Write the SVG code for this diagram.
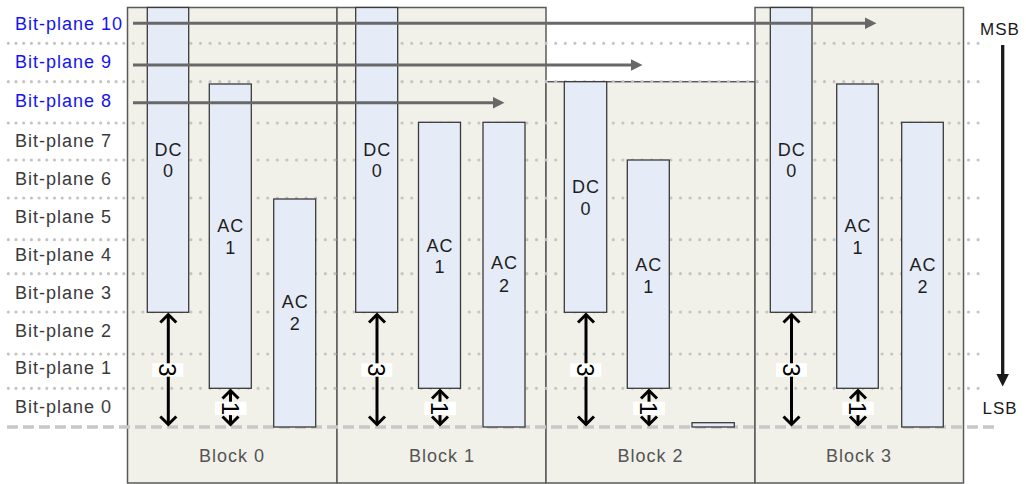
<svg xmlns="http://www.w3.org/2000/svg" width="1026" height="484" viewBox="0 0 1026 484">
  <style>
    text { font-family: "Liberation Sans", Arial, sans-serif; }
    .plane { font-size: 18px; letter-spacing: 1px; fill: #3a3a3a; }
    .plane.hi { fill: #1414f0; }
    .frame { fill: #f1f1ea; stroke: #5a5a5a; stroke-width: 1.5; }
    .blk { font-size: 18px; letter-spacing: 1px; fill: #555555; text-anchor: middle; }
    .bar { fill: #e5ecf7; stroke: #3a3a3a; stroke-width: 1.3; }
    .bar-t { font-size: 18px; letter-spacing: 1px; fill: #1e1e1e; text-anchor: middle; }
    .dots-l { stroke: #c4c4c4; stroke-width: 3.2; stroke-linecap: round; stroke-dasharray: 0 7.7; fill: none; }
    .dots { stroke: #c4c4c4; stroke-width: 3.2; stroke-linecap: round; stroke-dasharray: 0 9.6; fill: none; }
    .dash { stroke: #c8c8c8; stroke-width: 3.5; stroke-dasharray: 11 5; fill: none; }
    .scan { stroke: #686868; stroke-width: 3; fill: none; marker-end: url(#headGray); }
    .gap { stroke: #000000; stroke-width: 3; fill: none; marker-start: url(#chev); marker-end: url(#chev); }
    .tag { fill: #ffffff; }
    .tag-t { font-size: 24px; fill: #000000; text-anchor: middle; }
    .axis { stroke: #1a1a1a; stroke-width: 3.3; fill: none; marker-end: url(#headBlack); }
    .axis-t { font-size: 17px; letter-spacing: 1px; fill: #1a1a1a; }
  </style>
  <defs>
    <marker id="headGray" markerUnits="userSpaceOnUse" viewBox="0 0 12 12" markerWidth="12" markerHeight="12" refX="0.5" refY="6" orient="auto">
      <path d="M0,0 L12,6 L0,12 z" fill="#686868"/>
    </marker>
    <marker id="headBlack" markerUnits="userSpaceOnUse" viewBox="0 0 13 14" markerWidth="13" markerHeight="14" refX="0.5" refY="7" orient="auto">
      <path d="M0,0.5 L13,7 L0,13.5 z" fill="#1a1a1a"/>
    </marker>
    <marker id="chev" markerUnits="userSpaceOnUse" viewBox="-12 -12 16 24" markerWidth="16" markerHeight="24" refX="0" refY="0" orient="auto-start-reverse" overflow="visible">
      <path d="M-8,-8 L0,0 L-8,8" fill="none" stroke="#000000" stroke-width="3"/>
    </marker>
  </defs>

  <!-- block frames -->
  <g id="block-0">
    <rect class="frame" x="127.5" y="7.5" width="209.5" height="475.5"/>
    <text class="blk" x="232" y="462">Block 0</text>
  </g>
  <g id="block-1">
    <rect class="frame" x="337" y="7.5" width="209" height="475.5"/>
    <text class="blk" x="442" y="462">Block 1</text>
  </g>
  <g id="block-2">
    <rect class="frame" x="546" y="81.7" width="209" height="401.3"/>
    <text class="blk" x="650.5" y="462">Block 2</text>
  </g>
  <g id="block-3">
    <rect class="frame" x="755" y="7.5" width="208.5" height="475.5"/>
    <text class="blk" x="859" y="462">Block 3</text>
  </g>

  <!-- bit-plane guides -->
  <g id="guides">
    <path class="dots-l" d="M8.3,43.3 H124 M8.3,81.7 H124 M8.3,123 H124 M8.3,160 H124 M8.3,198 H124 M8.3,239.7 H124 M8.3,273.7 H124 M8.3,312 H124 M8.3,354 H124 M8.3,388.3 H124"/>
    <path class="dots" d="M133.3,43.3 H986 M133.3,81.7 H986 M133.3,123 H986 M133.3,160 H986 M133.3,198 H986 M133.3,239.7 H986 M133.3,273.7 H986 M133.3,312 H986 M133.3,354 H986 M133.3,388.3 H986"/>
    <path class="dash" d="M7,427 H995"/>
  </g>

  <!-- bit-plane labels -->
  <g id="plane-labels">
    <text class="plane hi" x="15" y="30">Bit-plane 10</text>
    <text class="plane hi" x="15" y="68">Bit-plane 9</text>
    <text class="plane hi" x="15" y="106.5">Bit-plane 8</text>
    <text class="plane" x="15" y="146.5">Bit-plane 7</text>
    <text class="plane" x="15" y="185">Bit-plane 6</text>
    <text class="plane" x="15" y="222.5">Bit-plane 5</text>
    <text class="plane" x="15" y="260.5">Bit-plane 4</text>
    <text class="plane" x="15" y="298.5">Bit-plane 3</text>
    <text class="plane" x="15" y="336.5">Bit-plane 2</text>
    <text class="plane" x="15" y="374">Bit-plane 1</text>
    <text class="plane" x="15" y="412.5">Bit-plane 0</text>
  </g>

  <!-- coefficient bars: block 0 -->
  <g id="b0-dc0">
    <rect class="bar" x="147.3" y="7.5" width="41.4" height="304.8"/>
    <text class="bar-t" x="168.5" y="155.7">DC</text>
    <text class="bar-t" x="168.5" y="177.3">0</text>
  </g>
  <g id="b0-ac1">
    <rect class="bar" x="209.3" y="84" width="42" height="304.3"/>
    <text class="bar-t" x="230.8" y="232">AC</text>
    <text class="bar-t" x="230.8" y="254">1</text>
  </g>
  <g id="b0-ac2">
    <rect class="bar" x="273.7" y="199" width="42" height="228"/>
    <text class="bar-t" x="295.2" y="307.5">AC</text>
    <text class="bar-t" x="295.2" y="329.5">2</text>
  </g>

  <!-- coefficient bars: block 1 -->
  <g id="b1-dc0">
    <rect class="bar" x="355.7" y="7.5" width="42" height="304.8"/>
    <text class="bar-t" x="377.2" y="155.7">DC</text>
    <text class="bar-t" x="377.2" y="177.3">0</text>
  </g>
  <g id="b1-ac1">
    <rect class="bar" x="418.5" y="122.3" width="42" height="266"/>
    <text class="bar-t" x="440" y="251.7">AC</text>
    <text class="bar-t" x="440" y="273.3">1</text>
  </g>
  <g id="b1-ac2">
    <rect class="bar" x="483" y="122.3" width="42" height="304.7"/>
    <text class="bar-t" x="504.5" y="269">AC</text>
    <text class="bar-t" x="504.5" y="291.5">2</text>
  </g>

  <!-- coefficient bars: block 2 -->
  <g id="b2-dc0">
    <rect class="bar" x="564.3" y="81.7" width="42.4" height="230.6"/>
    <text class="bar-t" x="586" y="193">DC</text>
    <text class="bar-t" x="586" y="215">0</text>
  </g>
  <g id="b2-ac1">
    <rect class="bar" x="627.3" y="160" width="42" height="228.3"/>
    <text class="bar-t" x="648.8" y="270.5">AC</text>
    <text class="bar-t" x="648.8" y="292.5">1</text>
  </g>
  <g id="b2-ac2">
    <rect class="bar" x="692" y="422.7" width="42.3" height="4.3"/>
  </g>

  <!-- coefficient bars: block 3 -->
  <g id="b3-dc0">
    <rect class="bar" x="770.3" y="7.5" width="41.7" height="304.8"/>
    <text class="bar-t" x="791.7" y="155.7">DC</text>
    <text class="bar-t" x="791.7" y="177.3">0</text>
  </g>
  <g id="b3-ac1">
    <rect class="bar" x="836.7" y="84" width="41.6" height="304.3"/>
    <text class="bar-t" x="858" y="232">AC</text>
    <text class="bar-t" x="858" y="254">1</text>
  </g>
  <g id="b3-ac2">
    <rect class="bar" x="901.7" y="122.3" width="41.6" height="304.7"/>
    <text class="bar-t" x="923" y="270.5">AC</text>
    <text class="bar-t" x="923" y="292.5">2</text>
  </g>

  <!-- connectors -->
  <g id="connectors">
    <!-- plane scans -->
    <path class="scan" d="M133,23.3 H865"/>
    <path class="scan" d="M133,65 H631"/>
    <path class="scan" d="M133,102.7 H493"/>

    <!-- shift distances, DC -->
    <path class="gap" d="M168.3,314.5 V424.5"/>
    <path class="gap" d="M377,314.5 V424.5"/>
    <path class="gap" d="M586,314.5 V424.5"/>
    <path class="gap" d="M791.5,314.5 V424.5"/>
    <!-- shift distances, AC1 -->
    <path class="gap" d="M230.5,390.5 V424.5"/>
    <path class="gap" d="M440,390.5 V424.5"/>
    <path class="gap" d="M649,390.5 V424.5"/>
    <path class="gap" d="M858,390.5 V424.5"/>

    <g id="gap-tags">
      <rect class="tag" x="152.3" y="363.3" width="31" height="13.4"/>
      <text class="tag-t" transform="translate(168,370) rotate(90)" y="8.6">3</text>
      <rect class="tag" x="361.3" y="363.3" width="31" height="13.4"/>
      <text class="tag-t" transform="translate(377,370) rotate(90)" y="8.6">3</text>
      <rect class="tag" x="570.3" y="363.3" width="31" height="13.4"/>
      <text class="tag-t" transform="translate(586,370) rotate(90)" y="8.6">3</text>
      <rect class="tag" x="776" y="363.3" width="31" height="13.4"/>
      <text class="tag-t" transform="translate(791.5,370) rotate(90)" y="8.6">3</text>

      <rect class="tag" x="215" y="401.7" width="31.5" height="13.4"/>
      <text class="tag-t" transform="translate(230.8,408.3) rotate(90)" y="8.6">1</text>
      <rect class="tag" x="424.3" y="401.7" width="31.5" height="13.4"/>
      <text class="tag-t" transform="translate(440,408.3) rotate(90)" y="8.6">1</text>
      <rect class="tag" x="633.3" y="401.7" width="31.5" height="13.4"/>
      <text class="tag-t" transform="translate(649,408.3) rotate(90)" y="8.6">1</text>
      <rect class="tag" x="842.3" y="401.7" width="31.5" height="13.4"/>
      <text class="tag-t" transform="translate(858,408.3) rotate(90)" y="8.6">1</text>
    </g>

    <!-- significance axis -->
    <path class="axis" d="M1002.7,45 V374"/>
  </g>

  <g id="axis-labels">
    <text class="axis-t" x="980" y="35">MSB</text>
    <text class="axis-t" x="982.5" y="414.3">LSB</text>
  </g>
</svg>
